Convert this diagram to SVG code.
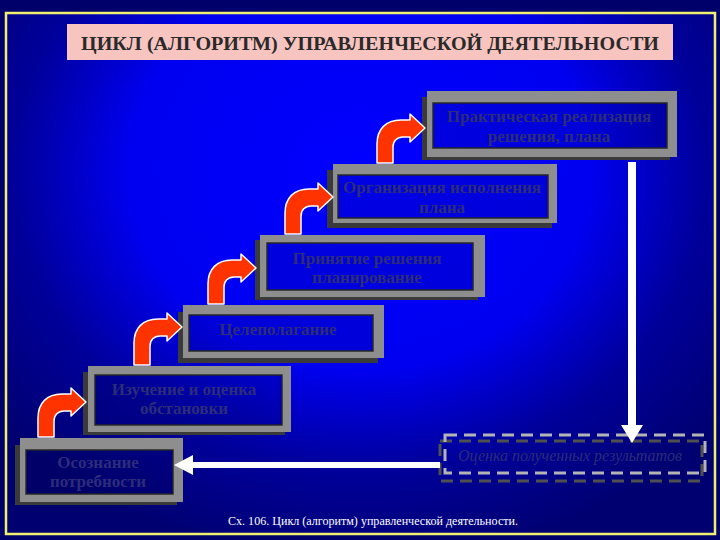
<svg xmlns="http://www.w3.org/2000/svg" width="720" height="540" viewBox="0 0 720 540">
<defs>
<radialGradient id="bg" gradientUnits="userSpaceOnUse" cx="360" cy="170" r="400" gradientTransform="translate(360 170) scale(1.15 1) translate(-360 -170)">
<stop offset="0" stop-color="#0000ff"/>
<stop offset="0.5" stop-color="#0000f0"/>
<stop offset="0.75" stop-color="#00009a"/>
<stop offset="1" stop-color="#000070"/>
</radialGradient>
<style>
.dark{fill:#3a3a3a}
.light{fill:#8e8e8e}
.inner{fill:url(#bg);stroke:#2a2a2a;stroke-width:1.5}
.shade{fill:#000030;fill-opacity:0.12}
.t{font-family:"Liberation Serif","Times New Roman",serif;font-size:17px;font-weight:bold;fill:#2c2c7a;text-anchor:middle}
.ti{font-family:"Liberation Serif","Times New Roman",serif;font-size:16px;font-style:italic;fill:#2c2c7a;text-anchor:middle}
.red{fill:#ff3300;stroke:#ffffff;stroke-width:1.5;stroke-linejoin:round}
.wh{fill:#ffffff}
</style>
</defs>
<rect x="0" y="0" width="720" height="540" fill="#00006a"/>
<rect x="6" y="13" width="709" height="521" fill="url(#bg)" stroke="#f0f070" stroke-width="2.5"/>
<g id="title">
<rect x="67" y="24" width="606" height="36" fill="#f8c4c0"/>
<text x="370" y="50" font-family="Liberation Serif,'Times New Roman',serif" font-size="18" font-weight="bold" fill="#2a2a2a" text-anchor="middle" textLength="578" lengthAdjust="spacingAndGlyphs">ЦИКЛ (АЛГОРИТМ) УПРАВЛЕНЧЕСКОЙ ДЕЯТЕЛЬНОСТИ</text>
</g>
<g id="node-realization">
<rect class="dark" x="422" y="97" width="248" height="63"/>
<rect class="light" x="427" y="91" width="250" height="66"/>
<rect class="inner" x="433" y="103" width="234" height="45"/>
<rect class="shade" x="433" y="103" width="234" height="45"/>
<text class="t" x="549" y="122">Практическая реализация</text>
<text class="t" x="549" y="142">решения, плана</text>
</g>
<g id="node-organization">
<rect class="dark" x="327" y="170" width="225" height="58"/>
<rect class="light" x="333" y="164" width="224" height="59"/>
<rect class="inner" x="338" y="175" width="210" height="43"/>
<rect class="shade" x="338" y="175" width="210" height="43"/>
<text class="t" x="442" y="193">Организация исполнения</text>
<text class="t" x="442" y="213">плана</text>
</g>
<g id="node-decision">
<rect class="dark" x="255" y="240" width="223" height="60"/>
<rect class="light" x="260" y="235" width="225" height="62"/>
<rect class="inner" x="267" y="243" width="206" height="47"/>
<rect class="shade" x="267" y="243" width="206" height="47"/>
<text class="t" x="367" y="264">Принятие решения</text>
<text class="t" x="367" y="283">планирование</text>
</g>
<g id="node-goal">
<rect class="dark" x="178" y="312" width="200" height="51"/>
<rect class="light" x="183" y="305" width="201" height="53"/>
<rect class="inner" x="189" y="315" width="184" height="36"/>
<rect class="shade" x="189" y="315" width="184" height="36"/>
<text class="t" x="278" y="335">Целеполагание</text>
</g>
<g id="node-study">
<rect class="dark" x="83" y="372" width="202" height="63"/>
<rect class="light" x="88" y="366" width="203" height="66"/>
<rect class="inner" x="95" y="375" width="187" height="50"/>
<rect class="shade" x="95" y="375" width="187" height="50"/>
<text class="t" x="184" y="395">Изучение и оценка</text>
<text class="t" x="184" y="414">обстановки</text>
</g>
<g id="node-need">
<rect class="dark" x="15" y="445" width="162" height="60"/>
<rect class="light" x="20" y="438" width="163" height="64"/>
<rect class="inner" x="26" y="450" width="147" height="44"/>
<rect class="shade" x="26" y="450" width="147" height="44"/>
<text class="t" x="98" y="468">Осознание</text>
<text class="t" x="98" y="487">потребности</text>
</g>
<g id="node-evaluation">
<rect x="440" y="441" width="262" height="40" fill="none" stroke="#505050" stroke-width="3" stroke-dasharray="12 7"/>
<rect x="445" y="435" width="260" height="38" fill="none" stroke="#b4b4b4" stroke-width="3" stroke-dasharray="12 7"/>
<text class="ti" x="570" y="461">Оценка полученных  результатов</text>
</g>
<g id="connectors">
<path class="red" transform="translate(425,128)" d="M-48,35 V16 C-48,1 -39,-8 -24,-8 H-15 V-14 L0,0 L-15,14 V9 H-22 C-28,9 -32,13 -32,19 V35 Z"/>
<path class="red" transform="translate(333,197)" d="M-48,37 V16 C-48,1 -39,-8 -24,-8 H-15 V-14 L0,0 L-15,14 V9 H-22 C-28,9 -32,13 -32,19 V37 Z"/>
<path class="red" transform="translate(256,268)" d="M-48,36 V16 C-48,1 -39,-8 -24,-8 H-15 V-14 L0,0 L-15,14 V9 H-22 C-28,9 -32,13 -32,19 V36 Z"/>
<path class="red" transform="translate(182,327)" d="M-48,38 V16 C-48,1 -39,-8 -24,-8 H-15 V-14 L0,0 L-15,14 V9 H-22 C-28,9 -32,13 -32,19 V38 Z"/>
<path class="red" transform="translate(86,402)" d="M-48,35 V16 C-48,1 -39,-8 -24,-8 H-15 V-14 L0,0 L-15,14 V9 H-22 C-28,9 -32,13 -32,19 V35 Z"/>
<polygon class="wh" points="628,162 636,162 636,425 643,425 632,443 621,425 628,425"/>
<polygon class="wh" points="440,462 440,468 193,468 193,475 174,465 193,455 193,462"/>
</g>
<text x="373" y="525" font-family="Liberation Serif,'Times New Roman',serif" font-size="12" fill="#ffffff" text-anchor="middle" textLength="290" lengthAdjust="spacingAndGlyphs">Сх. 106. Цикл (алгоритм) управленческой деятельности.</text>
</svg>
